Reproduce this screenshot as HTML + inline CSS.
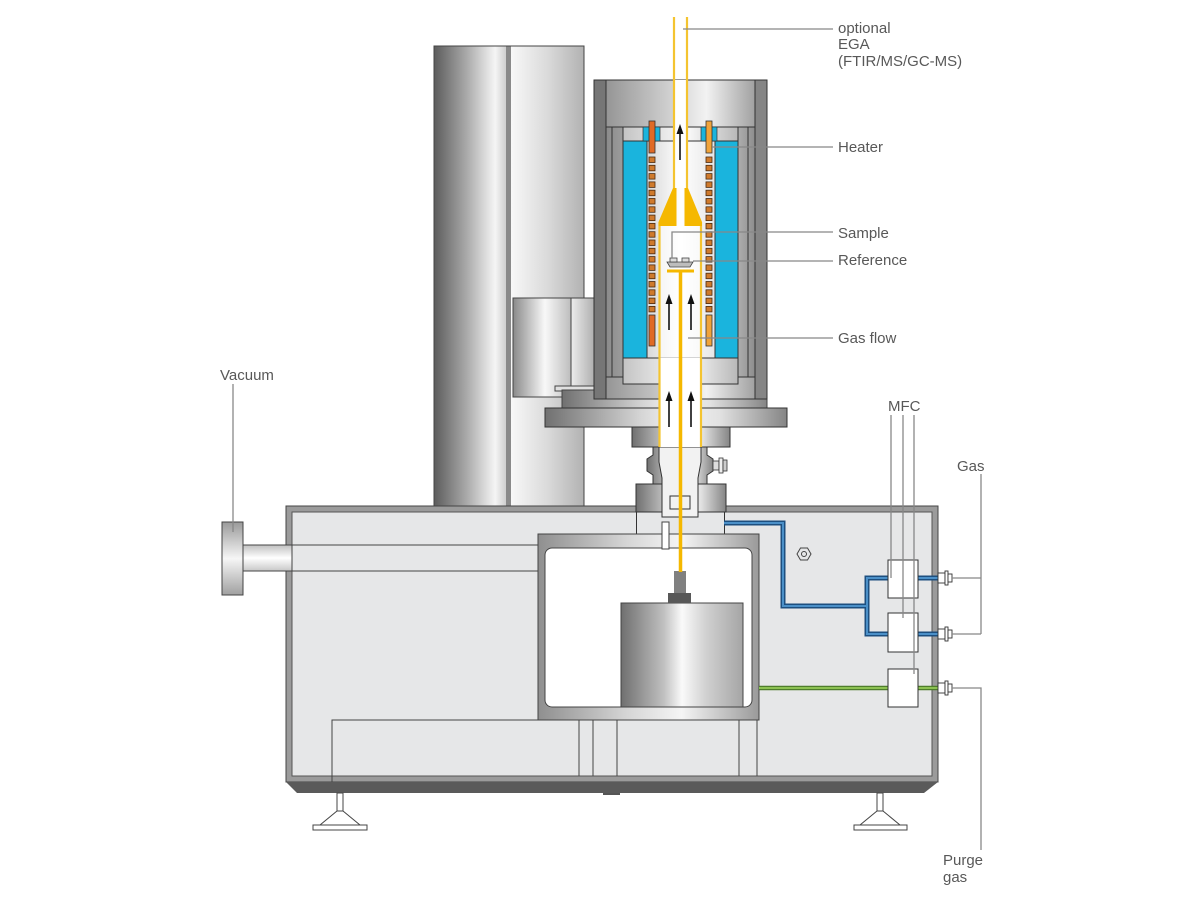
<!DOCTYPE html>
<html><head><meta charset="utf-8">
<style>
html,body{margin:0;padding:0;background:#fff;}
svg{display:block;}
text{font-family:"Liberation Sans",sans-serif;font-size:15px;fill:#585858;}
</style></head><body>
<svg width="1200" height="900" viewBox="0 0 1200 900" xmlns="http://www.w3.org/2000/svg">
<defs>
<linearGradient id="cl" x1="0" x2="1" y1="0" y2="0"><stop offset="0" stop-color="#5c5c5c"/><stop offset="0.45" stop-color="#a9a9a9"/><stop offset="0.85" stop-color="#f5f5f5"/><stop offset="1" stop-color="#cfcfcf"/></linearGradient>
<linearGradient id="cr" x1="0" x2="1" y1="0" y2="0"><stop offset="0" stop-color="#f8f8f8"/><stop offset="0.5" stop-color="#dadada"/><stop offset="1" stop-color="#b2b2b2"/></linearGradient>
<linearGradient id="m" x1="0" x2="1" y1="0" y2="0"><stop offset="0" stop-color="#707070"/><stop offset="0.4" stop-color="#d6d6d6"/><stop offset="0.55" stop-color="#f3f3f3"/><stop offset="0.72" stop-color="#e2e2e2"/><stop offset="1" stop-color="#858585"/></linearGradient>
<linearGradient id="fo" x1="0" x2="1" y1="0" y2="0"><stop offset="0" stop-color="#8a8a8a"/><stop offset="0.65" stop-color="#f2f2f2"/><stop offset="1" stop-color="#8d8d8d"/></linearGradient>
<linearGradient id="lt" x1="0" x2="1" y1="0" y2="0"><stop offset="0" stop-color="#c4c4c4"/><stop offset="0.55" stop-color="#fbfbfb"/><stop offset="1" stop-color="#b8b8b8"/></linearGradient>
<linearGradient id="mb" x1="0" x2="1" y1="0" y2="0"><stop offset="0" stop-color="#8a8a8a"/><stop offset="0.55" stop-color="#f8f8f8"/><stop offset="1" stop-color="#bdbdbd"/></linearGradient>
<linearGradient id="mb2" x1="0" x2="1" y1="0" y2="0"><stop offset="0" stop-color="#ececec"/><stop offset="1" stop-color="#b0b0b0"/></linearGradient>
<linearGradient id="tube" x1="0" x2="1" y1="0" y2="0"><stop offset="0" stop-color="#d8d8d8"/><stop offset="0.5" stop-color="#ffffff"/><stop offset="1" stop-color="#e6e6e6"/></linearGradient>
<linearGradient id="pipe" x1="0" x2="0" y1="0" y2="1"><stop offset="0" stop-color="#c0c0c0"/><stop offset="0.5" stop-color="#ffffff"/><stop offset="1" stop-color="#c8c8c8"/></linearGradient>
<linearGradient id="vfl" x1="0" x2="0" y1="0" y2="1"><stop offset="0" stop-color="#9a9a9a"/><stop offset="0.5" stop-color="#f6f6f6"/><stop offset="1" stop-color="#a0a0a0"/></linearGradient>
<linearGradient id="ch" x1="0" x2="1" y1="0" y2="0"><stop offset="0" stop-color="#8f8f8f"/><stop offset="0.4" stop-color="#d5d5d5"/><stop offset="0.65" stop-color="#f5f5f5"/><stop offset="1" stop-color="#9a9a9a"/></linearGradient>
<linearGradient id="bal" x1="0" x2="1" y1="0" y2="0"><stop offset="0" stop-color="#6f6f6f"/><stop offset="0.35" stop-color="#c0c0c0"/><stop offset="0.5" stop-color="#fafafa"/><stop offset="0.7" stop-color="#d0d0d0"/><stop offset="1" stop-color="#a5a5a5"/></linearGradient>
</defs>

<!-- Column -->
<rect x="434" y="46" width="72" height="460" fill="url(#cl)"/>
<rect x="506" y="46" width="5" height="460" fill="#8a8a8a"/>
<rect x="511" y="46" width="73" height="460" fill="url(#cr)"/>
<rect x="434" y="46" width="150" height="460" fill="none" stroke="#444" stroke-width="1"/>

<!-- motor block -->
<rect x="513" y="298" width="58" height="99" fill="url(#mb)" stroke="#444"/>
<rect x="571" y="298" width="23" height="99" fill="url(#mb2)" stroke="#444"/>
<rect x="555" y="386" width="40" height="5" fill="#e0e0e0" stroke="#444"/>
<rect x="562" y="390" width="205" height="18" fill="url(#m)" stroke="#444"/>

<!-- Furnace -->
<rect x="594" y="80" width="173" height="319" fill="url(#fo)" stroke="#333"/>
<rect x="594" y="80" width="12" height="319" fill="#767676" stroke="#333"/>
<rect x="755" y="80" width="12" height="319" fill="#858585" stroke="#333"/>
<rect x="606" y="127" width="149" height="250" fill="url(#fo)" stroke="#333"/>
<rect x="612" y="127" width="136" height="250" fill="none" stroke="#333"/>
<rect x="623" y="127" width="115" height="14" fill="url(#lt)" stroke="#333"/>
<rect x="623" y="141" width="24" height="217" fill="#1ab4dd" stroke="#333"/>
<rect x="715" y="141" width="23" height="217" fill="#1ab4dd" stroke="#333"/>
<rect x="647" y="141" width="68" height="217" fill="url(#tube)" stroke="#333"/>
<rect x="623" y="358" width="115" height="26" fill="url(#lt)" stroke="#333"/>
<rect x="643" y="127" width="17" height="14" fill="#1ab4dd" stroke="#333" stroke-width="0.7"/>
<rect x="701" y="127" width="16" height="14" fill="#1ab4dd" stroke="#333" stroke-width="0.7"/>

<!-- heaters -->
<rect x="649" y="121" width="6" height="32" fill="#e06a25" stroke="#333" stroke-width="0.8"/>
<rect x="649" y="315" width="6" height="31" fill="#e06a25" stroke="#333" stroke-width="0.8"/>
<rect x="706" y="121" width="6" height="32" fill="#f0a33a" stroke="#333" stroke-width="0.8"/>
<rect x="706" y="315" width="6" height="31" fill="#f0a33a" stroke="#333" stroke-width="0.8"/>
<g fill="#cf7a2c" stroke="#4a2a10" stroke-width="0.8">
<rect x="649" y="157" width="6" height="5.5"/><rect x="649" y="165.3" width="6" height="5.5"/><rect x="649" y="173.6" width="6" height="5.5"/><rect x="649" y="181.9" width="6" height="5.5"/><rect x="649" y="190.2" width="6" height="5.5"/><rect x="649" y="198.5" width="6" height="5.5"/><rect x="649" y="206.8" width="6" height="5.5"/><rect x="649" y="215.1" width="6" height="5.5"/><rect x="649" y="223.4" width="6" height="5.5"/><rect x="649" y="231.7" width="6" height="5.5"/><rect x="649" y="240" width="6" height="5.5"/><rect x="649" y="248.3" width="6" height="5.5"/><rect x="649" y="256.6" width="6" height="5.5"/><rect x="649" y="264.9" width="6" height="5.5"/><rect x="649" y="273.2" width="6" height="5.5"/><rect x="649" y="281.5" width="6" height="5.5"/><rect x="649" y="289.8" width="6" height="5.5"/><rect x="649" y="298.1" width="6" height="5.5"/><rect x="649" y="306.4" width="6" height="5.5"/>
<rect x="706" y="157" width="6" height="5.5"/><rect x="706" y="165.3" width="6" height="5.5"/><rect x="706" y="173.6" width="6" height="5.5"/><rect x="706" y="181.9" width="6" height="5.5"/><rect x="706" y="190.2" width="6" height="5.5"/><rect x="706" y="198.5" width="6" height="5.5"/><rect x="706" y="206.8" width="6" height="5.5"/><rect x="706" y="215.1" width="6" height="5.5"/><rect x="706" y="223.4" width="6" height="5.5"/><rect x="706" y="231.7" width="6" height="5.5"/><rect x="706" y="240" width="6" height="5.5"/><rect x="706" y="248.3" width="6" height="5.5"/><rect x="706" y="256.6" width="6" height="5.5"/><rect x="706" y="264.9" width="6" height="5.5"/><rect x="706" y="273.2" width="6" height="5.5"/><rect x="706" y="281.5" width="6" height="5.5"/><rect x="706" y="289.8" width="6" height="5.5"/><rect x="706" y="298.1" width="6" height="5.5"/><rect x="706" y="306.4" width="6" height="5.5"/>
</g>

<!-- Flange -->
<rect x="545" y="408" width="242" height="19" fill="url(#m)" stroke="#333"/>

<!-- Body -->
<rect x="286" y="506" width="652" height="276" fill="#9b9b9b" stroke="#444"/>
<rect x="292" y="512" width="640" height="264" fill="#e6e7e8" stroke="#555"/>
<polygon points="286,782 938,782 924,793 297,793" fill="#5a5a5a"/>
<rect x="603" y="793" width="17" height="2" fill="#555"/>

<!-- Neck -->
<rect x="632" y="427" width="98" height="20" fill="url(#m)" stroke="#333"/>
<polygon points="653,447 707,447 707,455 713,459 713,471 707,475 707,484 653,484 653,475 647,471 647,459 653,455" fill="url(#m)" stroke="#333"/>
<rect x="636" y="484" width="90" height="28" fill="url(#m)" stroke="#333"/>
<line x1="636.5" y1="512" x2="636.5" y2="534" stroke="#333"/>
<line x1="724.5" y1="512" x2="724.5" y2="534" stroke="#333"/>
<polygon points="659,447 701,447 701,462 698,478 698,517 662,517 662,478 659,462" fill="#f2f2f2" stroke="#333"/>
<rect x="670" y="496" width="20" height="13" fill="none" stroke="#333"/>
<rect x="713" y="461" width="6" height="9" fill="#ddd" stroke="#333" stroke-width="0.8"/>
<rect x="719" y="458" width="4" height="15" fill="#eee" stroke="#333" stroke-width="0.8"/>
<rect x="723" y="460" width="4" height="11" fill="#ccc" stroke="#333" stroke-width="0.8"/>

<!-- Vacuum -->
<rect x="243" y="545" width="49" height="26" fill="url(#pipe)" stroke="#444"/>
<rect x="222" y="522" width="21" height="73" fill="url(#vfl)" stroke="#444"/>
<line x1="292" y1="545" x2="538" y2="545" stroke="#444"/>
<line x1="292" y1="571" x2="538" y2="571" stroke="#444"/>

<!-- Chamber -->
<rect x="538" y="534" width="221" height="186" fill="url(#ch)" stroke="#444"/>
<rect x="545" y="548" width="207" height="159" rx="7" fill="#fff" stroke="#444"/>
<rect x="621" y="603" width="122" height="104" fill="url(#bal)" stroke="#444"/>
<rect x="668" y="593" width="23" height="10" fill="#585858"/>
<rect x="674" y="571" width="12" height="22" fill="#808080"/>
<rect x="662" y="522" width="7" height="27" fill="#fff" stroke="#444"/>

<!-- base internal lines -->
<g stroke="#444" stroke-width="1" fill="none">
<polyline points="538,720 332,720 332,782"/>
<line x1="579" y1="720" x2="579" y2="776"/>
<line x1="593" y1="720" x2="593" y2="776"/>
<line x1="617" y1="720" x2="617" y2="776"/>
<line x1="739" y1="720" x2="739" y2="776"/>
<line x1="757" y1="720" x2="757" y2="776"/>
</g>

<!-- Blue pipes -->
<g fill="none" stroke-linejoin="miter">
<path d="M724,523 H783 V606 H867 M888,578 H867 V634 H888 M918,578 H938 M918,634 H938" stroke="#1d4f7f" stroke-width="5"/>
<path d="M724,523 H783 V606 H867 M888,578 H867 V634 H888 M918,578 H938 M918,634 H938" stroke="#4b90c8" stroke-width="2"/>
<path d="M759,688 H888 M918,688 H938" stroke="#4e7d2b" stroke-width="4.5"/>
<path d="M759,688 H888 M918,688 H938" stroke="#8cc152" stroke-width="2"/>
</g>

<!-- MFC boxes -->
<rect x="888" y="560" width="30" height="38" fill="#fff" stroke="#333"/>
<rect x="888" y="613" width="30" height="39" fill="#fff" stroke="#333"/>
<rect x="888" y="669" width="30" height="38" fill="#fff" stroke="#333"/>

<!-- fittings -->
<g fill="#fff" stroke="#333" stroke-width="0.9">
<rect x="938" y="573" width="7" height="10"/><rect x="945" y="571" width="3" height="14"/><rect x="948" y="574" width="4" height="8"/>
<rect x="938" y="629" width="7" height="10"/><rect x="945" y="627" width="3" height="14"/><rect x="948" y="630" width="4" height="8"/>
<rect x="938" y="683" width="7" height="10"/><rect x="945" y="681" width="3" height="14"/><rect x="948" y="684" width="4" height="8"/>
</g>

<!-- hex nut -->
<polygon points="797,554 800.5,548 807.5,548 811,554 807.5,560 800.5,560" fill="none" stroke="#444"/>
<circle cx="804" cy="554" r="2.5" fill="none" stroke="#444"/>

<!-- Feet -->
<g fill="#fff" stroke="#444">
<rect x="337" y="793" width="6" height="18"/>
<polygon points="337,811 343,811 360,825 320,825"/>
<rect x="313" y="825" width="54" height="5"/>
<rect x="877" y="793" width="6" height="18"/>
<polygon points="877,811 883,811 900,825 860,825"/>
<rect x="854" y="825" width="53" height="5"/>
</g>

<!-- Yellow tubes -->
<rect x="675" y="80" width="11" height="108" fill="#fff"/>
<rect x="660" y="226" width="40" height="132" fill="#fff" opacity="0.6"/>
<rect x="660" y="358" width="40" height="89" fill="#fff"/>
<g stroke="#f4c430" stroke-width="2.2">
<line x1="674" y1="17" x2="674" y2="188"/>
<line x1="687" y1="17" x2="687" y2="188"/>
<line x1="659.5" y1="222" x2="659.5" y2="447"/>
<line x1="701" y1="222" x2="701" y2="447"/>
</g>
<polygon points="673,188 676.5,188 676.5,226 658.5,226 658.5,222" fill="#f5b800"/>
<polygon points="684.5,188 688,188 702,222 702,226 684.5,226" fill="#f5b800"/>
<line x1="667" y1="271" x2="694" y2="271" stroke="#f5b800" stroke-width="3"/>
<line x1="680.5" y1="270" x2="680.5" y2="572" stroke="#f5b800" stroke-width="3.5"/>

<!-- sample holder -->
<path d="M667,262 L693,262 L690,267 L670,267 Z" fill="#bdbdbd" stroke="#444" stroke-width="0.8"/>
<rect x="670" y="258" width="7" height="4" fill="#ddd" stroke="#444" stroke-width="0.8"/>
<rect x="682" y="258" width="7" height="4" fill="#ddd" stroke="#444" stroke-width="0.8"/>

<!-- arrows -->
<g stroke="#111" stroke-width="1.6" fill="#111">
<line x1="680" y1="133" x2="680" y2="160"/><polygon points="676.5,134 680,124 683.5,134" stroke="none"/>
<line x1="669" y1="303" x2="669" y2="330"/><polygon points="665.5,304 669,294 672.5,304" stroke="none"/>
<line x1="691" y1="303" x2="691" y2="330"/><polygon points="687.5,304 691,294 694.5,304" stroke="none"/>
<line x1="669" y1="400" x2="669" y2="427"/><polygon points="665.5,401 669,391 672.5,401" stroke="none"/>
<line x1="691" y1="400" x2="691" y2="427"/><polygon points="687.5,401 691,391 694.5,401" stroke="none"/>
</g>

<!-- Leaders -->
<g stroke="#888" stroke-width="1.3" fill="none">
<line x1="683" y1="29" x2="833" y2="29"/>
<line x1="712" y1="147" x2="833" y2="147"/>
<polyline points="672,258 672,232 833,232"/>
<line x1="693" y1="261" x2="833" y2="261"/>
<line x1="688" y1="338" x2="833" y2="338"/>
<line x1="233" y1="384" x2="233" y2="532"/>
<line x1="891" y1="415" x2="891" y2="578"/>
<line x1="903" y1="415" x2="903" y2="618"/>
<line x1="914" y1="415" x2="914" y2="674"/>
<polyline points="952,578 981,578"/>
<polyline points="952,634 981,634"/>
<line x1="981" y1="474" x2="981" y2="634"/>
<polyline points="952,688 981,688 981,850"/>
</g>

<!-- Labels -->
<text x="838" y="33">optional</text>
<text x="838" y="49">EGA</text>
<text x="838" y="66">(FTIR/MS/GC-MS)</text>
<text x="838" y="152">Heater</text>
<text x="838" y="238">Sample</text>
<text x="838" y="265">Reference</text>
<text x="838" y="343">Gas flow</text>
<text x="220" y="380">Vacuum</text>
<text x="888" y="411">MFC</text>
<text x="957" y="471">Gas</text>
<text x="943" y="865">Purge</text>
<text x="943" y="882">gas</text>
</svg>
</body></html>
